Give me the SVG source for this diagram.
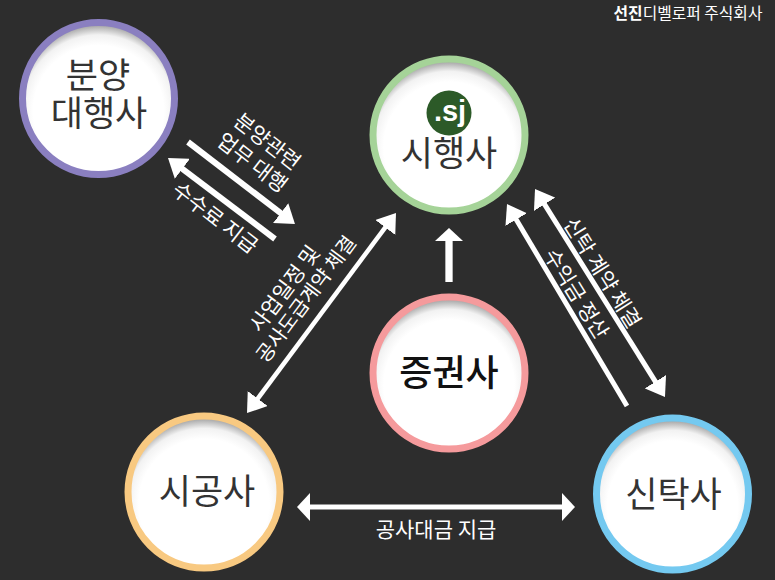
<svg xmlns="http://www.w3.org/2000/svg" width="775" height="580" viewBox="0 0 775 580">
<style>
text{font-family:"Noto Sans CJK KR","Noto Sans",sans-serif;text-anchor:middle}
.n{font-size:35px;fill:#333;font-weight:400}
.l{font-size:21px;fill:#fff;font-weight:400}
.c{fill:url(#fill);stroke-width:7}
.a{stroke:#fff;fill:none}
</style>
<defs>
<radialGradient id="fill" cx="0.5" cy="0.58" r="0.58">
<stop offset="0" stop-color="#fff"/><stop offset="0.74" stop-color="#fff"/><stop offset="0.86" stop-color="#f2f2f2"/><stop offset="0.97" stop-color="#a5a5a5"/>
</radialGradient>
<marker id="d" viewBox="0 0 18 25" refX="12" refY="12.5" markerWidth="18" markerHeight="25" markerUnits="userSpaceOnUse" orient="auto-start-reverse"><path d="M0 0L18 12.5L0 25Z" fill="#fff"/></marker>
<marker id="h" viewBox="0 0 13 28" refX="7" refY="14" markerWidth="13" markerHeight="28" markerUnits="userSpaceOnUse" orient="auto-start-reverse"><path d="M0 0L13 14L0 28Z" fill="#fff"/></marker>
</defs>
<rect width="775" height="580" fill="#2d2d2d"/>
<g id="connectors">
<path class="a" stroke-width="6" d="M188 142L290.2 220.4" marker-end="url(#d)"/>
<path class="a" stroke-width="6" d="M275 239L172.8 161.6" marker-end="url(#d)"/>
<path class="a" stroke-width="4.5" d="M250.6 408.2L392.4 217.8" marker-start="url(#d)" marker-end="url(#d)"/>
<path class="a" stroke-width="5" d="M538.2 194.1L661.8 391.9" marker-start="url(#d)" marker-end="url(#d)"/>
<path class="a" stroke-width="5" d="M627 406L510.1 209.2" marker-end="url(#d)"/>
<path class="a" stroke-width="7.3" d="M449 282L449 234" marker-end="url(#h)"/>
<path class="a" stroke-width="5" d="M303 507L569 507" marker-start="url(#h)" marker-end="url(#h)"/>
<g class="labels">
<text class="l" transform="translate(267 142) rotate(37.8)" dy="7">분양관련</text>
<text class="l" transform="translate(252 163) rotate(37.8)" dy="7">업무 대행</text>
<text class="l" transform="translate(215 218) rotate(37.8)" dy="7">수수료 지급</text>
<text class="l" transform="translate(285 289) rotate(-53.3)" dy="7">사업일정 및</text>
<text class="l" style="font-size:20px" transform="translate(306 299) rotate(-53.3)" dy="7">공사도급계약 체결</text>
<text class="l" transform="translate(602 273) rotate(58)" dy="7">신탁 계약 체결</text>
<text class="l" transform="translate(576 294) rotate(58)" dy="7">수익금 정산</text>
<text class="l" x="436" y="537">공사대금 지급</text>
</g>
</g>
<g id="node-bunyang"><circle class="c" cx="98.5" cy="98.5" r="76" stroke="#8a7fc0"/><text class="n" x="98" y="88">분양</text><text class="n" x="99" y="126">대행사</text></g>
<g id="node-sihaeng"><circle class="c" cx="449" cy="135" r="76" stroke="#a5d398"/><circle cx="449" cy="113" r="22.5" fill="#2c5a28"/><text x="450" y="121" style="font-family:'Liberation Sans',sans-serif;font-weight:700;font-size:29px;fill:#fff">.sj</text><text class="n" x="449" y="166">시행사</text></g>
<g id="node-jeunggwon"><circle class="c" cx="449" cy="373" r="76" stroke="#f59a9c"/><text class="n" x="449" y="386" style="font-size:36px;fill:#111;font-weight:500">증권사</text></g>
<g id="node-sigong"><circle class="c" cx="204" cy="492" r="76" stroke="#f8c981"/><text class="n" x="207" y="504">시공사</text></g>
<g id="node-sintak"><circle class="c" cx="672.5" cy="494" r="76" stroke="#74c9f0"/><text class="n" x="673.5" y="507">신탁사</text></g>
<g id="brand"><text x="688" y="19" style="font-size:15.8px;fill:#fff"><tspan font-weight="700">선진</tspan>디벨로퍼 주식회사</text></g>
</svg>
